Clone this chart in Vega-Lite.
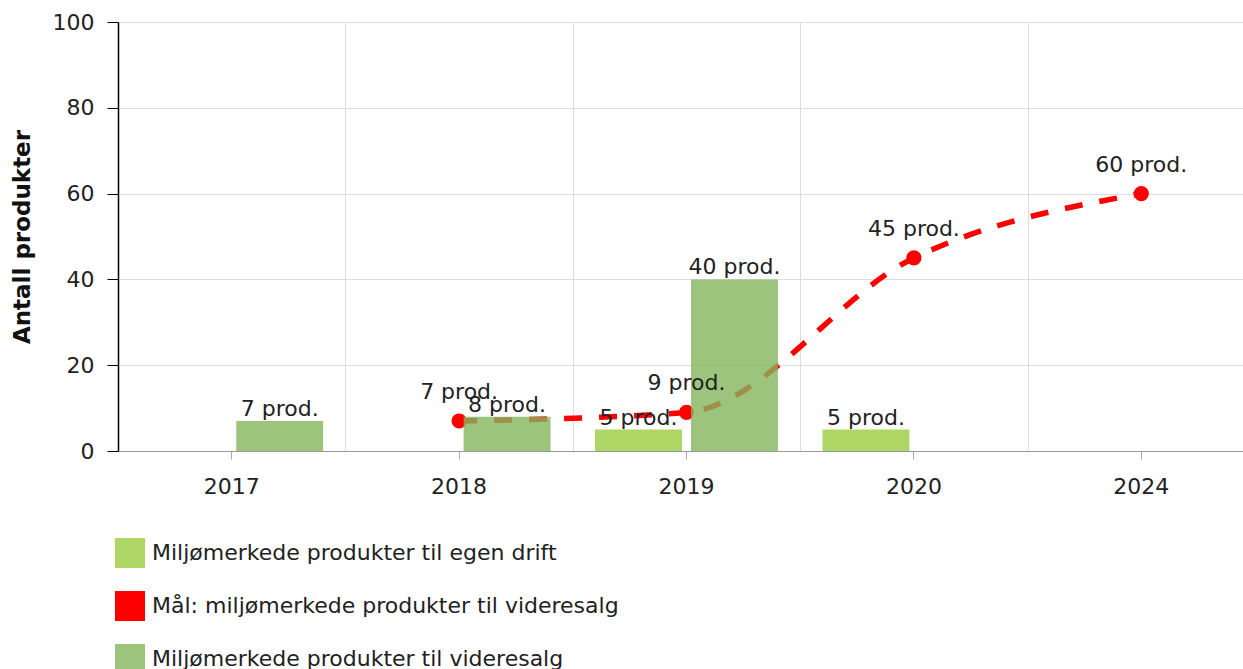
{
  "$schema": "https://vega.github.io/schema/vega-lite/v6.json",
  "autosize": "none",
  "width": 1125,
  "height": 429,
  "padding": {"left": 118, "top": 22, "right": 0, "bottom": 218},
  "config": {
    "font": "DejaVu Sans",
    "view": {"stroke": null},
    "axis": {"labelColor": "#222", "titleColor": "#111"}
  },
  "datasets": {
    "bars": [
      {"year": "2017", "series": "Miljømerkede produkter til videresalg", "value": 7, "label": "7 prod."},
      {"year": "2018", "series": "Miljømerkede produkter til videresalg", "value": 8, "label": "8 prod."},
      {"year": "2019", "series": "Miljømerkede produkter til egen drift", "value": 5, "label": "5 prod."},
      {"year": "2019", "series": "Miljømerkede produkter til videresalg", "value": 40, "label": "40 prod."},
      {"year": "2020", "series": "Miljømerkede produkter til egen drift", "value": 5, "label": "5 prod."}
    ],
    "goal": [
      {"year": "2018", "series": "Mål: miljømerkede produkter til videresalg", "value": 7, "label": "7 prod."},
      {"year": "2019", "series": "Mål: miljømerkede produkter til videresalg", "value": 9, "label": "9 prod."},
      {"year": "2020", "series": "Mål: miljømerkede produkter til videresalg", "value": 45, "label": "45 prod."},
      {"year": "2024", "series": "Mål: miljømerkede produkter til videresalg", "value": 60, "label": "60 prod."}
    ]
  },
  "layer": [
    {
      "data": {"name": "goal"},
      "mark": {"type": "line", "color": "#ff0000", "strokeWidth": 5.5, "strokeDash": [18, 17], "interpolate": "monotone"},
      "encoding": {
        "x": {
          "field": "year", "type": "nominal",
          "axis": {"orient": "bottom", "grid": false, "domain": false, "ticks": true, "tickSize": 8, "tickColor": "#aaaaaa", "labels": true, "labelFontSize": 22, "labelPadding": 17, "labelAngle": 0, "title": null}
        },
        "y": {"field": "value", "type": "quantitative"}
      }
    },
    {
      "data": {"name": "goal"},
      "mark": {"type": "point", "filled": true, "shape": "circle", "size": 230, "opacity": 1, "color": "#ff0000"},
      "encoding": {
        "x": {"field": "year", "type": "nominal", "axis": null},
        "y": {"field": "value", "type": "quantitative"}
      }
    },
    {
      "data": {"name": "bars"},
      "mark": {"type": "bar", "opacity": 0.8},
      "encoding": {
        "x": {
          "field": "year", "type": "nominal",
          "scale": {"domain": ["2017", "2018", "2019", "2020", "2024"], "range": [0, 1137], "paddingInner": 0, "paddingOuter": 0},
          "axis": {"orient": "bottom", "tickBand": "extent", "grid": true, "gridColor": "#dddddd", "ticks": false, "labels": false, "domain": true, "domainColor": "#999999", "title": null}
        },
        "xOffset": {
          "field": "series", "type": "nominal",
          "scale": {"domain": ["Miljømerkede produkter til egen drift", "Miljømerkede produkter til videresalg"], "paddingInner": 0.094, "paddingOuter": 0.232}
        },
        "y": {
          "field": "value", "type": "quantitative",
          "scale": {"domain": [0, 100], "nice": false},
          "axis": {"values": [0, 20, 40, 60, 80, 100], "grid": true, "gridColor": "#dddddd", "domainColor": "#000000", "domainWidth": 1.5, "tickColor": "#000000", "tickSize": 11, "labelPadding": 13, "labelFontSize": 22, "title": "Antall produkter", "titleFontSize": 23, "titleFontWeight": "bold", "titlePadding": 18}
        },
        "color": {
          "field": "series", "type": "nominal",
          "scale": {
            "domain": ["Miljømerkede produkter til egen drift", "Mål: miljømerkede produkter til videresalg", "Miljømerkede produkter til videresalg"],
            "range": ["#98cc3e", "#ff0000", "#84b55d"]
          },
          "legend": {
            "orient": "none", "legendX": -3, "legendY": 516, "direction": "vertical", "title": null,
            "symbolType": "square", "symbolSize": 900, "symbolStrokeWidth": 0, "symbolOpacity": 1,
            "labelFontSize": 22, "labelColor": "#222", "labelOffset": 7, "rowPadding": 23, "padding": 0, "labelLimit": 0,
            "encode": {"symbols": {"update": {"opacity": [{"test": "indexof(datum.label, 'Mål') === 0", "value": 1}, {"value": 0.8}]}}}
          }
        }
      }
    },
    {
      "data": {"name": "bars"},
      "mark": {"type": "text", "align": "center", "baseline": "alphabetic", "dy": -5, "fontSize": 22, "color": "#222"},
      "encoding": {
        "x": {"field": "year", "type": "nominal", "axis": null},
        "xOffset": {"field": "series", "type": "nominal"},
        "y": {"field": "value", "type": "quantitative"},
        "text": {"field": "label"}
      }
    },
    {
      "data": {"name": "goal"},
      "mark": {"type": "text", "align": "center", "baseline": "alphabetic", "dy": -22, "fontSize": 22, "color": "#222"},
      "encoding": {
        "x": {"field": "year", "type": "nominal", "axis": null},
        "y": {"field": "value", "type": "quantitative"},
        "text": {"field": "label"}
      }
    }
  ],
  "resolve": {"axis": {"x": "independent"}}
}
